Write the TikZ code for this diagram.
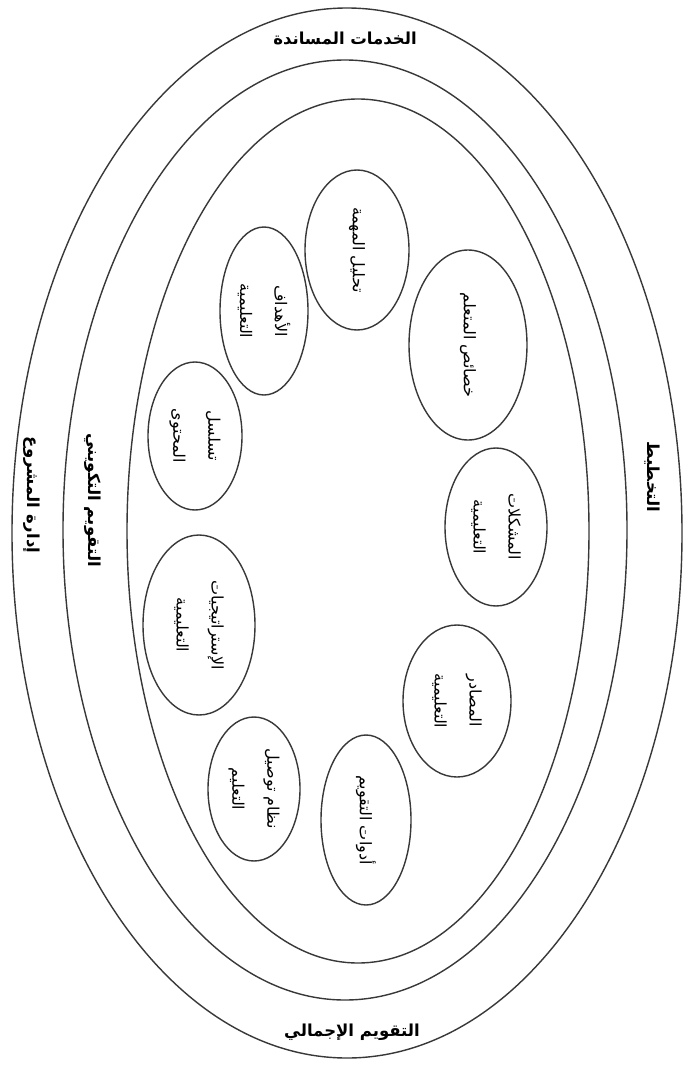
\documentclass[tikz,border=0pt]{standalone}
\usepackage{fontspec}
\usetikzlibrary{shapes.geometric}
\newfontfamily\arabicfont[Script=Arabic]{DejaVu Sans}
\TeXXeTstate=1
\newcommand{\AR}[1]{\beginR #1\endR}
\begin{document}
\begin{tikzpicture}[x=1pt,y=-1pt,
  ring/.style={draw=black!78, line width=1.4pt},
  item/.style={ellipse, draw=black!78, line width=1.4pt, rotate=-90, align=center,
    inner sep=0pt, font=\arabicfont\fontsize{16}{35}\selectfont},
  outerlabel/.style={font=\arabicfont\bfseries\fontsize{16.5}{20}\selectfont, inner sep=0pt}]
\useasboundingbox[fill=white] (0,0) rectangle (693,1065);
% rings
\draw[ring] (347,533) ellipse [x radius=335, y radius=525];
\draw[ring] (345,530) ellipse [x radius=282, y radius=470];
\draw[ring] (358,531) ellipse [x radius=231, y radius=432];
% ring labels
\node[outerlabel] (support) at (345,38) {\AR{الخدمات المساندة}};
\node[outerlabel] (summ) at (352,1032) {\AR{التقويم الإجمالي}};
\node[outerlabel, rotate=-90] (proj) at (32,495) {\AR{إدارة المشروع}};
\node[outerlabel, rotate=-90] (form) at (93,500) {\AR{التقويم التكويني}};
\node[outerlabel, rotate=-90] (plan) at (652,477) {\AR{التخطيط}};
% nine elements
\node[item, minimum width=160, minimum height=104] (task) at (357,250) {\AR{تحليل المهمة}};
\node[item, minimum width=168, minimum height=88] (obj) at (264,311) {\AR{الأهداف}\\\AR{التعليمية}};
\node[item, minimum width=190, minimum height=118] (learner) at (468,345) {\AR{خصائص المتعلم}};
\node[item, minimum width=148, minimum height=94] (seq) at (195,436) {\AR{تسلسل}\\\AR{المحتوى}};
\node[item, minimum width=158, minimum height=102] (prob) at (496,527) {\AR{المشكلات}\\\AR{التعليمية}};
\node[item, minimum width=180, minimum height=112] (strat) at (199,625) {\AR{الإستراتيجيات}\\\AR{التعليمية}};
\node[item, minimum width=152, minimum height=108] (res) at (457,701) {\AR{المصادر}\\\AR{التعليمية}};
\node[item, minimum width=144, minimum height=92] (deliv) at (254,789) {\AR{نظام توصيل}\\\AR{التعليم}};
\node[item, minimum width=170, minimum height=90] (eval) at (366,820) {\AR{أدوات التقويم}};
\end{tikzpicture}
\end{document}
